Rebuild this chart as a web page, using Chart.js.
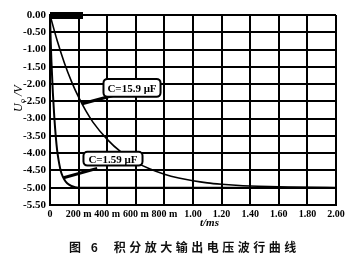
<!DOCTYPE html>
<html lang="zh">
<head>
  <meta charset="UTF-8">
  <title>积分放大输出电压波形</title>
  <script src="https://cdn.jsdelivr.net/npm/chart.js"></script>
  <style>
    html, body { margin: 0; padding: 0; background: #fff; }
    .wrap { position: relative; width: 350px; height: 266px; }
    .caption { position: absolute; left: 69px; top: 238px; font-family: "Noto Sans CJK SC", sans-serif;
               font-weight: bold; font-size: 12px; letter-spacing: 3.5px; color: #111; white-space: pre; }
  </style>
</head>
<body>
<div class="wrap">
  <canvas id="waveChart" width="350" height="266"></canvas>
  <div class="caption">图 6  积分放大输出电压波行曲线</div>
</div>
<script>
  // time in ms, output voltage in V
  const slowT = [0, 0.05, 0.1, 0.15, 0.2, 0.25, 0.3, 0.4, 0.5, 0.6, 0.7, 0.8, 0.9, 1.0, 1.1, 1.2, 1.3, 1.4, 1.6, 1.8, 2.0];
  const slowV = [0, -0.74, -1.38, -1.92, -2.38, -2.77, -3.10, -3.60, -3.98, -4.26, -4.46, -4.61, -4.72, -4.80, -4.86, -4.90, -4.93, -4.95, -4.97, -4.99, -5.00];
  const fastT = [0, 0.005, 0.01, 0.02, 0.03, 0.04, 0.05, 0.06, 0.07, 0.08, 0.1, 0.12, 0.15, 0.2, 0.4, 0.8, 1.2, 1.6, 2.0];
  const fastV = [0, -0.75, -1.35, -2.25, -2.95, -3.50, -3.92, -4.20, -4.42, -4.58, -4.76, -4.87, -4.95, -5.00, -5.00, -5.00, -5.00, -5.00, -5.00];
  const xTickLabels = ['0', '200 m', '400 m', '600 m', '800 m', '1.00', '1.20', '1.40', '1.60', '1.80', '2.00'];
  const notes = [
    { text: 'C=15.9 μF', box: [0.374, -1.85, 0.773, -2.37], line: [0.44, -2.33, 0.225, -2.57] },
    { text: 'C=1.59 μF', box: [0.234, -3.96, 0.647, -4.36], line: [0.33, -4.44, 0.095, -4.71] }
  ];

  const serif = '"Liberation Serif", "DejaVu Serif", serif';

  const extras = {
    id: 'extras',
    afterDatasetsDraw(chart) {
      const { ctx, scales: { x, y }, chartArea } = chart;
      ctx.save();
      // legend remnant at top-left
      ctx.fillStyle = '#000';
      ctx.fillRect(x.getPixelForValue(0), chartArea.top - 3, 33, 7);
      notes.forEach(n => {
        const [x1, y1, x2, y2] = n.box;
        const px1 = x.getPixelForValue(x1), py1 = y.getPixelForValue(y1);
        const px2 = x.getPixelForValue(x2), py2 = y.getPixelForValue(y2);
        ctx.beginPath();
        ctx.moveTo(x.getPixelForValue(n.line[0]), y.getPixelForValue(n.line[1]));
        ctx.lineTo(x.getPixelForValue(n.line[2]), y.getPixelForValue(n.line[3]));
        ctx.lineWidth = 3;
        ctx.strokeStyle = '#000';
        ctx.stroke();
        ctx.beginPath();
        ctx.roundRect(px1, py1, px2 - px1, py2 - py1, 4);
        ctx.fillStyle = '#fff';
        ctx.fill();
        ctx.lineWidth = 2;
        ctx.stroke();
        ctx.fillStyle = '#000';
        ctx.font = 'bold 11px ' + serif;
        ctx.textAlign = 'center';
        ctx.textBaseline = 'middle';
        ctx.fillText(n.text, (px1 + px2) / 2, (py1 + py2) / 2 + 1);
      });
      // axis titles
      ctx.fillStyle = '#000';
      ctx.font = 'italic bold 11px ' + serif;
      ctx.textAlign = 'left';
      ctx.textBaseline = 'alphabetic';
      ctx.fillText('t/ms', 200, 226);
      ctx.translate(22, 112);
      ctx.rotate(-Math.PI / 2);
      ctx.font = 'italic 12px ' + serif;
      ctx.fillText('U', 0, 0);
      ctx.font = 'italic 8px ' + serif;
      ctx.fillText('o', 9, 3);
      ctx.font = 'italic 12px ' + serif;
      ctx.fillText(' /V', 13, 0);
      ctx.restore();
    }
  };

  const ctx = document.getElementById('waveChart').getContext('2d');
  new Chart(ctx, {
    type: 'line',
    data: {
      datasets: [
        { data: slowT.map((t, i) => ({ x: t, y: slowV[i] })), borderColor: '#000', borderWidth: 1.6, pointRadius: 0, cubicInterpolationMode: 'monotone' },
        { data: fastT.map((t, i) => ({ x: t, y: fastV[i] })), borderColor: '#000', borderWidth: 2, pointRadius: 0, cubicInterpolationMode: 'monotone' }
      ]
    },
    options: {
      responsive: false,
      animation: false,
      layout: { padding: { left: 0, top: 15, right: 14, bottom: 41 } },
      plugins: { legend: { display: false }, tooltip: { enabled: false } },
      scales: {
        x: {
          type: 'linear', min: 0, max: 2,
          afterFit: s => { s.height = 20; },
          afterBuildTicks: s => { s.ticks = xTickLabels.map((_, i) => ({ value: i * 0.2 })); },
          ticks: {
            callback: (v, i) => xTickLabels[i],
            color: '#000', padding: 3, maxRotation: 0, autoSkip: false,
            font: { family: serif, size: 10, weight: 'bold' }
          },
          grid: { color: '#000', lineWidth: 2, drawTicks: false },
          border: { color: '#000', width: 2 }
        },
        y: {
          min: -5.5, max: 0,
          afterFit: s => { s.width = 50; },
          ticks: {
            stepSize: 0.5, autoSkip: false,
            callback: v => v.toFixed(2),
            color: '#000', padding: 4,
            font: { family: serif, size: 11, weight: 'bold' }
          },
          grid: { color: '#000', lineWidth: 2, drawTicks: false },
          border: { color: '#000', width: 2 }
        }
      }
    },
    plugins: [extras]
  });
</script>
</body>
</html>
